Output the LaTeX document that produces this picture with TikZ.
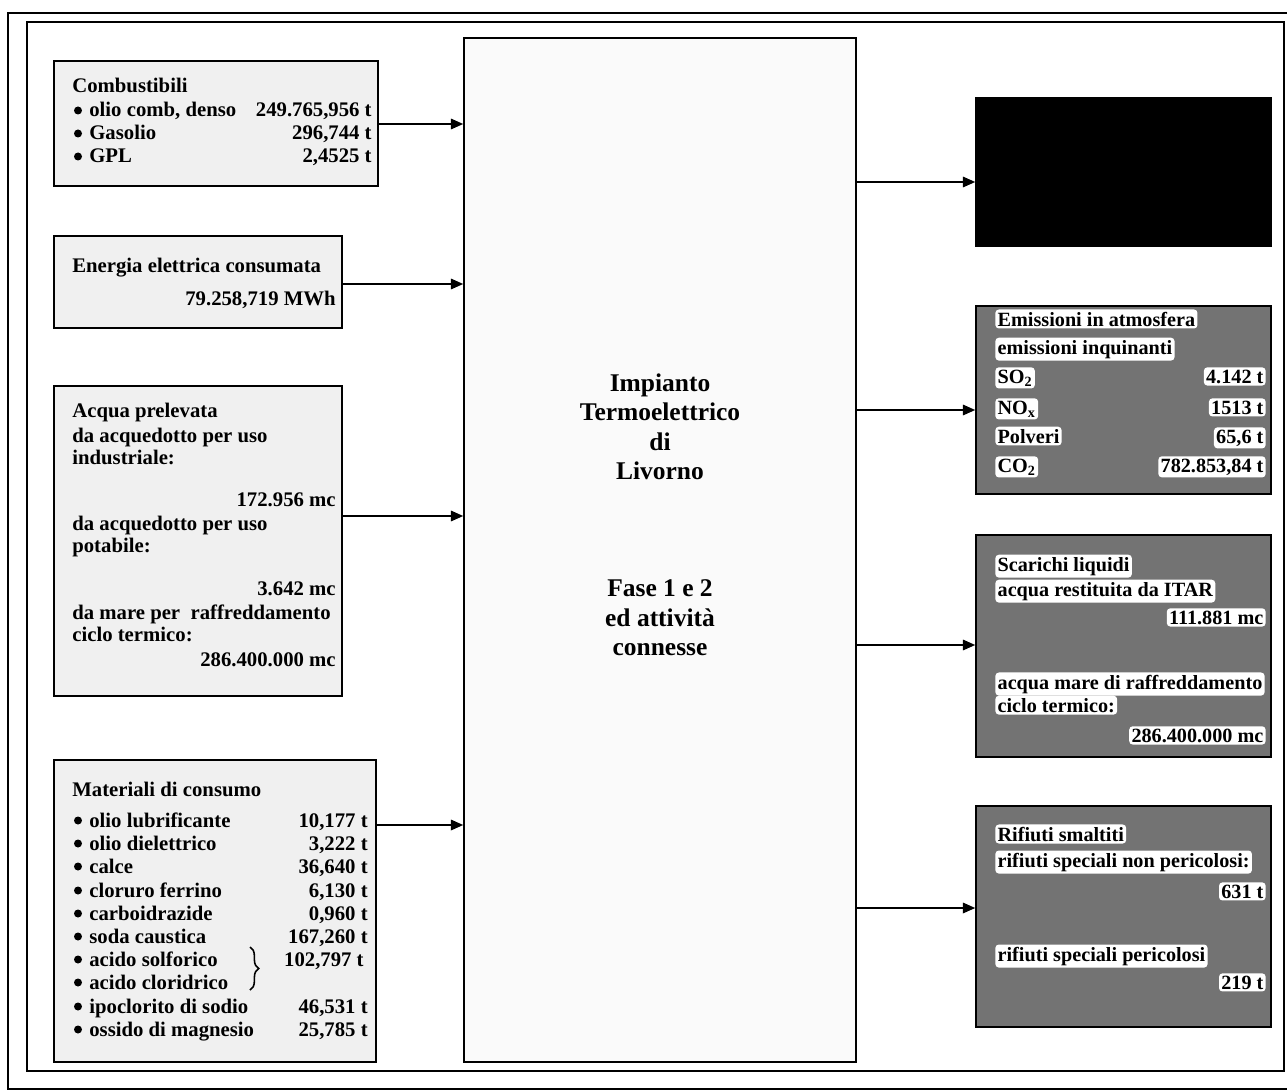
\documentclass[tikz,border=0pt]{standalone}
\usepackage{fontspec}
\setmainfont{Liberation Serif}
\usetikzlibrary{arrows.meta,fit,decorations.pathreplacing}
\begin{document}
\begin{tikzpicture}[x=0.02cm,y=-0.02cm,
  boxL/.style={draw, line width=0.9pt, fill=black!6, inner sep=0pt},
  boxC/.style={draw, line width=0.9pt, fill=black!2, inner sep=0pt},
  boxR/.style={draw, line width=0.9pt, fill=black!55, inner sep=0pt},
  boxK/.style={draw, line width=0.9pt, fill=black, inner sep=0pt},
  lbl/.style={font=\fontsize{11.8}{14}\selectfont\bfseries, inner sep=0pt, anchor=base west},
  val/.style={lbl, anchor=base east},
  hl/.style={fill=white, rounded corners=2pt, inner sep=1.3pt, font=\fontsize{11.5}{13}\selectfont\bfseries},
  hlw/.style={hl, anchor=base west},
  hle/.style={hl, anchor=base east},
  ctr/.style={font=\fontsize{14.5}{16.8}\selectfont\bfseries, align=center, inner sep=0pt},
  arr/.style={-{Triangle[length=7pt,width=6pt]}, line width=0.9pt},
  frame/.style={line width=0.7pt}]
\useasboundingbox (0,0) rectangle (1287,1091);
% frames
\draw[frame] (1287,13) -- (8,13) -- (8,1089) -- (1287,1089);
\draw[frame] (27,22) rectangle (1284,1071);
% boxes
\node[boxL, fit={(54,61) (378,186)}] (comb) {};
\node[boxL, fit={(54,236) (342,328)}] (ener) {};
\node[boxL, fit={(54,386) (342,696)}] (acqua) {};
\node[boxL, fit={(54,760) (376,1062)}] (mat) {};
\node[boxC, fit={(464,38) (856,1062)}] (center) {};
\node[boxK, fit={(976,98) (1271,246)}] (blk) {};
\node[boxR, fit={(976,306) (1271,494)}] (emis) {};
\node[boxR, fit={(976,535) (1271,757)}] (scar) {};
\node[boxR, fit={(976,806) (1271,1027)}] (rif) {};
% bullets
\foreach \yy in {117,140,163,827,850,873,897,920,943,966,989,1013,1036}
  \fill (78,\yy-6.5) circle (0.08cm);
% Combustibili
\node[lbl] (c0) at (72,93) {Combustibili};
\node[lbl] (c1) at (89,117) {olio comb, denso};
\node[val] (c1v) at (372,117) {249.765,956 t};
\node[lbl] (c2) at (89,140) {Gasolio};
\node[val] (c2v) at (372,140) {296,744 t};
\node[lbl] (c3) at (89,163) {GPL};
\node[val] (c3v) at (372,163) {2,4525 t};
% Energia
\node[lbl] (e0) at (72,272) {Energia elettrica consumata};
\node[val] (e1) at (336,305) {79.258,719 MWh};
% Acqua
\node[lbl] (a0) at (72,417) {Acqua prelevata};
\node[lbl] (a1) at (72,442) {da acquedotto per uso};
\node[lbl] (a2) at (72,464) {industriale:};
\node[val] (a3) at (336,506) {172.956 mc};
\node[lbl] (a4) at (72,530) {da acquedotto per uso};
\node[lbl] (a5) at (72,552) {potabile:};
\node[val] (a6) at (336,595) {3.642 mc};
\node[lbl] (a7) at (72,619) {da mare per\ \ raffreddamento};
\node[lbl] (a8) at (72,641) {ciclo termico:};
\node[val] (a9) at (336,666) {286.400.000 mc};
% Materiali
\node[lbl] (m0) at (72,796) {Materiali di consumo};
\node[lbl] (m1) at (89,827) {olio lubrificante};
\node[val] (m1v) at (368,827) {10,177 t};
\node[lbl] (m2) at (89,850) {olio dielettrico};
\node[val] (m2v) at (368,850) {3,222 t};
\node[lbl] (m3) at (89,873) {calce};
\node[val] (m3v) at (368,873) {36,640 t};
\node[lbl] (m4) at (89,897) {cloruro ferrino};
\node[val] (m4v) at (368,897) {6,130 t};
\node[lbl] (m5) at (89,920) {carboidrazide};
\node[val] (m5v) at (368,920) {0,960 t};
\node[lbl] (m6) at (89,943) {soda caustica};
\node[val] (m6v) at (368,943) {167,260 t};
\node[lbl] (m7) at (89,966) {acido solforico};
\node[val] (m7v) at (364,966) {102,797 t};
\node[lbl] (m8) at (89,989) {acido cloridrico};
\node[lbl] (m9) at (89,1013) {ipoclorito di sodio};
\node[val] (m9v) at (368,1013) {46,531 t};
\node[lbl] (m10) at (89,1036) {ossido di magnesio};
\node[val] (m10v) at (368,1036) {25,785 t};
\coordinate (brt) at (250,947);
\coordinate (brb) at (250,990);
\draw[line width=0.9pt, decorate, decoration={brace, amplitude=5pt}] (brt) -- (brb);
% center
\node[ctr] (ct1) at (660,427) {Impianto\\Termoelettrico\\di\\Livorno};
\node[ctr] (ct2) at (660,618) {Fase 1 e 2\\ed attività\\connesse};
% Emissioni
\node[hlw] (r0) at (995,326) {Emissioni in atmosfera};
\node[hlw] (r1) at (995,354) {emissioni inquinanti};
\node[hlw] (r2) at (995,383) {SO\textsubscript{2}};
\node[hle] (r2v) at (1266,383) {4.142 t};
\node[hlw] (r3) at (995,414) {NO\textsubscript{x}};
\node[hle] (r3v) at (1266,414) {1513 t};
\node[hlw] (r4) at (995,443) {Polveri};
\node[hle] (r4v) at (1266,443) {65,6 t};
\node[hlw] (r5) at (995,472) {CO\textsubscript{2}};
\node[hle] (r5v) at (1266,472) {782.853,84 t};
% Scarichi
\node[hlw] (s0) at (995,571) {Scarichi liquidi};
\node[hlw] (s1) at (995,596) {acqua restituita da ITAR};
\node[hle] (s2) at (1266,624) {111.881 mc};
\node[hlw] (s3) at (995,689) {acqua mare di raffreddamento};
\node[hlw] (s4) at (995,712) {ciclo termico:};
\node[hle] (s5) at (1266,742) {286.400.000 mc};
% Rifiuti
\node[hlw] (f0) at (995,841) {Rifiuti smaltiti};
\node[hlw] (f1) at (995,867) {rifiuti speciali non pericolosi:};
\node[hle] (f2) at (1266,898) {631 t};
\node[hlw] (f3) at (995,961) {rifiuti speciali pericolosi};
\node[hle] (f4) at (1266,989) {219 t};
% arrow levels
\coordinate (y1) at (0,124);
\coordinate (y2) at (0,284);
\coordinate (y3) at (0,516);
\coordinate (y4) at (0,825);
\coordinate (z1) at (0,182);
\coordinate (z2) at (0,410);
\coordinate (z3) at (0,645);
\coordinate (z4) at (0,908);
\draw[arr] (comb.east |- y1) -- (center.west |- y1);
\draw[arr] (ener.east |- y2) -- (center.west |- y2);
\draw[arr] (acqua.east |- y3) -- (center.west |- y3);
\draw[arr] (mat.east |- y4) -- (center.west |- y4);
\draw[arr] (center.east |- z1) -- (blk.west |- z1);
\draw[arr] (center.east |- z2) -- (emis.west |- z2);
\draw[arr] (center.east |- z3) -- (scar.west |- z3);
\draw[arr] (center.east |- z4) -- (rif.west |- z4);
\end{tikzpicture}
\end{document}
